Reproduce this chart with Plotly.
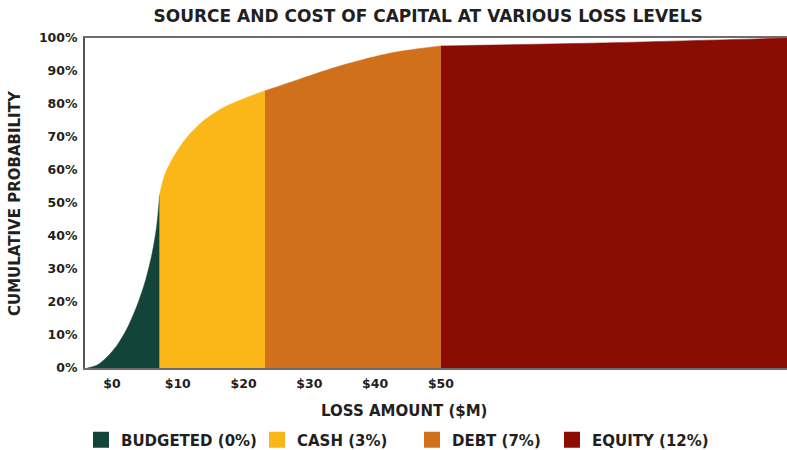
import plotly.graph_objects as go

# ---- data ----
budgeted_x = [-3.75, -2.23, -0.71, 0.81, 2.33, 3.84, 5.12, 6.12, 6.79, 7.25]
budgeted_y = [0.0, 0.009, 0.034, 0.070, 0.121, 0.191, 0.267, 0.349, 0.429, 0.526]

cash_x = [7.25, 8.05, 9.57, 11.35, 13.88, 16.9, 20.5, 23.25]
cash_y = [0.526, 0.587, 0.647, 0.698, 0.749, 0.789, 0.820, 0.840]

debt_x = [23.25, 28.6, 35.1, 42.7, 50.0]
debt_y = [0.840, 0.876, 0.918, 0.956, 0.976]

equity_x = [50.0, 74.2, 102.6]
equity_y = [0.976, 0.985, 1.0]

series_names = ["BUDGETED (0%)", "CASH (3%)", "DEBT (7%)", "EQUITY (12%)"]
series_colors = ["#12443A", "#FBB718", "#D0701A", "#8A0C02"]

x_tick_vals = [0, 10, 20, 30, 40, 50]
x_tick_text = ["$0", "$10", "$20", "$30", "$40", "$50"]
y_tick_vals = [i / 10 for i in range(11)]
y_tick_text = [f"{i*10}%" for i in range(11)]

FONT = "DejaVu Sans"
TXT = "#231F20"

fig = go.Figure()
segments = [(budgeted_x, budgeted_y), (cash_x, cash_y), (debt_x, debt_y), (equity_x, equity_y)]
for (xs, ys), name, col in zip(segments, series_names, series_colors):
    fig.add_trace(go.Scatter(
        x=xs, y=ys, mode="lines", line=dict(color=col, width=0.5, shape="spline", smoothing=0.8),
        fill="tozeroy", fillcolor=col, showlegend=False, hoverinfo="skip", name=name))

legend_ids = ["legend", "legend2", "legend3", "legend4"]
legend_x = [-0.0057, 0.2450, 0.4658, 0.6652]
for name, col, lid in zip(series_names, series_colors, legend_ids):
    fig.add_trace(go.Scatter(
        x=[None], y=[None], mode="markers", name=name, legend=lid,
        marker=dict(symbol="square", size=16, color=col), showlegend=True))

leg_common = dict(orientation="h", xanchor="left", y=-0.218, yanchor="middle",
                  font=dict(family=FONT, size=15, color=TXT, weight="bold"),
                  itemsizing="trace", bgcolor="rgba(0,0,0,0)", borderwidth=0)

fig.update_layout(
    width=787, height=450,
    margin=dict(l=85, r=0, t=38, b=82, autoexpand=False),
    plot_bgcolor="white", paper_bgcolor="white",
    font=dict(family=FONT, color=TXT, size=12, weight="bold"),
    title=dict(text="SOURCE AND COST OF CAPITAL AT VARIOUS LOSS LEVELS",
               x=0.544, xanchor="center", y=0.964, yanchor="middle", automargin=False,
               font=dict(family=FONT, size=17, color=TXT, weight="bold")),
    xaxis=dict(range=[-4.1, 102.6], tickvals=x_tick_vals, ticktext=x_tick_text,
               showgrid=False, zeroline=False, showline=True, linecolor="#6d6d6d",
               linewidth=2, mirror=True, ticks="", ticklabelstandoff=3, automargin=False,
               tickfont=dict(family=FONT, size=12.5, color=TXT, weight="bold")),
    yaxis=dict(range=[0, 1], tickvals=y_tick_vals, ticktext=y_tick_text,
               showgrid=False, zeroline=False, showline=True, linecolor="#555555",
               linewidth=2, ticks="", ticklabelstandoff=3, automargin=False,
               tickfont=dict(family=FONT, size=12.5, color=TXT, weight="bold")),
    legend=dict(x=legend_x[0], **leg_common),
    legend2=dict(x=legend_x[1], **leg_common),
    legend3=dict(x=legend_x[2], **leg_common),
    legend4=dict(x=legend_x[3], **leg_common),
    annotations=[
        dict(text="LOSS AMOUNT ($M)", xref="paper", yref="paper",
             x=0.455, y=-0.13, xanchor="center", yanchor="middle", showarrow=False,
             font=dict(family=FONT, size=15, color=TXT, weight="bold")),
        dict(text="CUMULATIVE PROBABILITY", xref="paper", yref="paper", textangle=-90,
             x=-0.0997, y=0.5, xanchor="center", yanchor="middle", showarrow=False,
             font=dict(family=FONT, size=15, color=TXT, weight="bold")),
    ],
)

fig.write_html("out.html", config={"displayModeBar": False},
               post_script="document.body.style.margin='0';")
